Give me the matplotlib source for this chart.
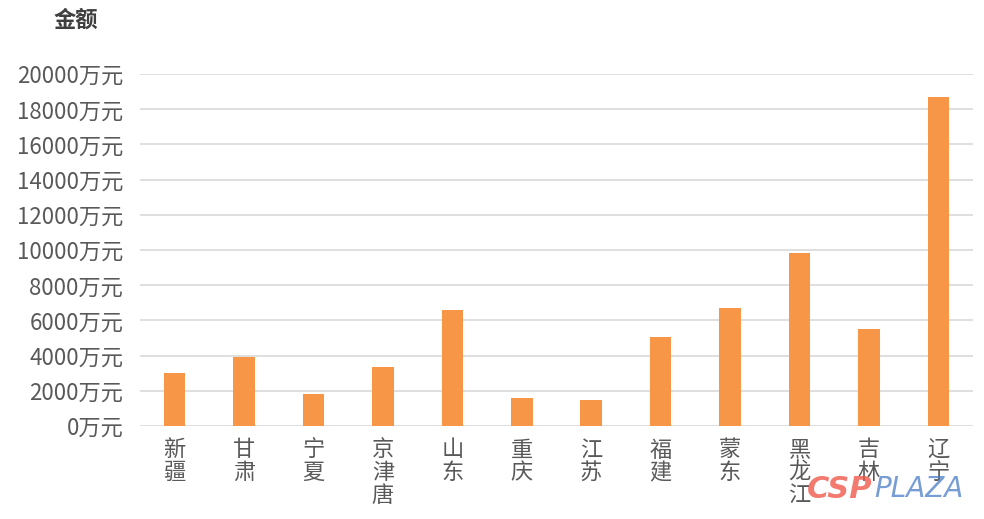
import matplotlib

matplotlib.use("Agg")
import matplotlib.pyplot as plt
import numpy as np

plt.rcParams["font.family"] = ["Noto Sans CJK SC", "DejaVu Sans"]

# 地区及金额（万元）
regions = ["新疆", "甘肃", "宁夏", "京津唐", "山东", "重庆",
           "江苏", "福建", "蒙东", "黑龙江", "吉林", "辽宁"]
amounts = [3030, 3940, 1800, 3370, 6590, 1610,
           1495, 5030, 6700, 9840, 5490, 18700]
yticks = list(range(0, 20001, 2000))

BAR = "#F79646"
TXT = "#595959"
GRID = "#D9D9D9"

fig = plt.figure(figsize=(9.84, 5.19), dpi=100)
ax = fig.add_axes([0.1423, 0.1792, 0.9888 - 0.1423, 0.8574 - 0.1792])

x = np.arange(len(regions))
ax.bar(x, amounts, width=0.31, color=BAR, zorder=3)

ax.set_xlim(-0.5, len(regions) - 0.5)
ax.set_ylim(0, 20000)
ax.set_yticks(yticks)
ax.set_yticklabels([f"{v}万元" for v in yticks], fontsize=16, color=TXT)
ax.set_xticks(x)
ax.set_xticklabels(["\n".join(r) for r in regions], fontsize=16, color=TXT,
                   va="top", linespacing=0.98)
ax.tick_params(length=0, pad=9)
ax.tick_params(axis="y", pad=12)
ax.grid(True, axis="y", color=GRID, linewidth=1.2, zorder=0)
for s in ax.spines.values():
    s.set_visible(False)

fig.text(76 / 984, 1 - 20 / 519, "金额", fontsize=16, fontweight="bold",
         color="#404040", ha="center", va="center")

# 水印（参考图中与标签重叠）
fig.text(807 / 984, 1 - 489 / 519, "CSP", fontsize=22, fontweight="bold",
         style="italic", color="#F04E3E", alpha=0.75, ha="left", va="center",
         family="DejaVu Sans")
fig.text(874 / 984, 1 - 489 / 519, "PLAZA", fontsize=20, style="italic",
         color="#4A7CC8", alpha=0.75, ha="left", va="center",
         family="DejaVu Sans")

fig.savefig("out.png", dpi=100)
